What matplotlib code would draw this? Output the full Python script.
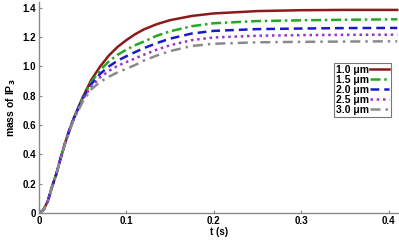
import matplotlib
matplotlib.use("Agg")
import matplotlib.pyplot as plt

t = [0, 0.005, 0.01, 0.015, 0.02, 0.025, 0.03, 0.035, 0.04, 0.05, 0.06, 0.07, 0.08, 0.09,
     0.1, 0.11, 0.12, 0.135, 0.15, 0.175, 0.2, 0.25, 0.3, 0.35, 0.41]
labels = ["1.0 μm", "1.5 μm", "2.0 μm", "2.5 μm", "3.0 μm"]
s10 = [0, 0.02, 0.08, 0.18, 0.27, 0.38, 0.48, 0.57, 0.65, 0.79, 0.91, 1.00, 1.075, 1.134,
       1.18, 1.22, 1.253, 1.289, 1.316, 1.345, 1.362, 1.378, 1.384, 1.386, 1.386]
s15 = [0, 0.02, 0.08, 0.18, 0.27, 0.38, 0.48, 0.57, 0.65, 0.786, 0.895, 0.975, 1.035, 1.08,
       1.115, 1.145, 1.17, 1.21, 1.24, 1.275, 1.295, 1.31, 1.315, 1.319, 1.322]
s20 = [0, 0.02, 0.08, 0.18, 0.27, 0.38, 0.48, 0.57, 0.648, 0.782, 0.88, 0.95, 1.0, 1.04,
       1.07, 1.098, 1.125, 1.16, 1.19, 1.225, 1.243, 1.255, 1.259, 1.262, 1.263]
s25 = [0, 0.02, 0.08, 0.18, 0.27, 0.38, 0.48, 0.565, 0.645, 0.775, 0.865, 0.925, 0.97, 1.005,
       1.03, 1.055, 1.08, 1.115, 1.145, 1.18, 1.198, 1.21, 1.214, 1.216, 1.217]
s30 = [0, 0.02, 0.08, 0.18, 0.27, 0.375, 0.475, 0.56, 0.64, 0.76, 0.845, 0.895, 0.93, 0.96,
       0.985, 1.01, 1.04, 1.075, 1.105, 1.14, 1.155, 1.165, 1.168, 1.17, 1.172]
series = [s10, s15, s20, s25, s30]
xticks = [0, 0.1, 0.2, 0.3, 0.4]
xticklabels = ["0", "0.1", "0.2", "0.3", "0.4"]
yticks = [0, 0.2, 0.4, 0.6, 0.8, 1.0, 1.2, 1.4]
yticklabels = ["0", "0.2", "0.4", "0.6", "0.8", "1.0", "1.2", "1.4"]

colors = ["#8b1a1a", "#22aa22", "#1a1acc", "#9933cc", "#8a8a8a"]
styles = ["-", (0, (4, 1.5, 1, 1.5)), (0, (3.5, 2)), (0, (1, 1.5)), (0, (4, 2, 1, 2))]

plt.rcParams['font.family'] = ['Liberation Sans', 'DejaVu Sans']
fig = plt.figure(figsize=(3.99, 2.45), dpi=100)
ax = fig.add_axes([39/399, 32/245, 360/399, 211/245])
for s, lab, c, ls in zip(series, labels, colors, styles):
    ax.plot(t, s, color=c, linestyle=ls, linewidth=1.8, label=lab)
ax.set_xlim(0, 0.412)
ax.set_ylim(0, 1.44)
ax.set_xticks(xticks)
ax.set_xticklabels(xticklabels, fontsize=7, fontweight='bold')
ax.set_yticks(yticks)
ax.set_yticklabels(yticklabels, fontsize=7, fontweight='bold')
for sp in ['top', 'right']:
    ax.spines[sp].set_visible(False)
for sp in ['left', 'bottom']:
    ax.spines[sp].set_color('#888888')
    ax.spines[sp].set_linewidth(1.0)
ax.tick_params(direction='in', length=2, width=0.8, color='#888888', pad=2)
ax.set_xlabel("t (s)", fontsize=7, fontweight='bold', labelpad=1)
ax.set_ylabel(r"mass of IP$_\mathbf{3}$", fontsize=7.5, fontweight='bold', labelpad=3)
leg = ax.legend(loc='upper right', bbox_to_anchor=(352/360, (213-63)/211), markerfirst=False,
                prop={'weight': 'bold', 'size': 7.5}, frameon=True, fancybox=False,
                handlelength=1.8, handletextpad=0.15, labelspacing=0.0, borderpad=0.2,
                borderaxespad=0)
leg.get_frame().set_edgecolor('#555555')
leg.get_frame().set_linewidth(0.8)
fig.savefig("out.png", dpi=100)
